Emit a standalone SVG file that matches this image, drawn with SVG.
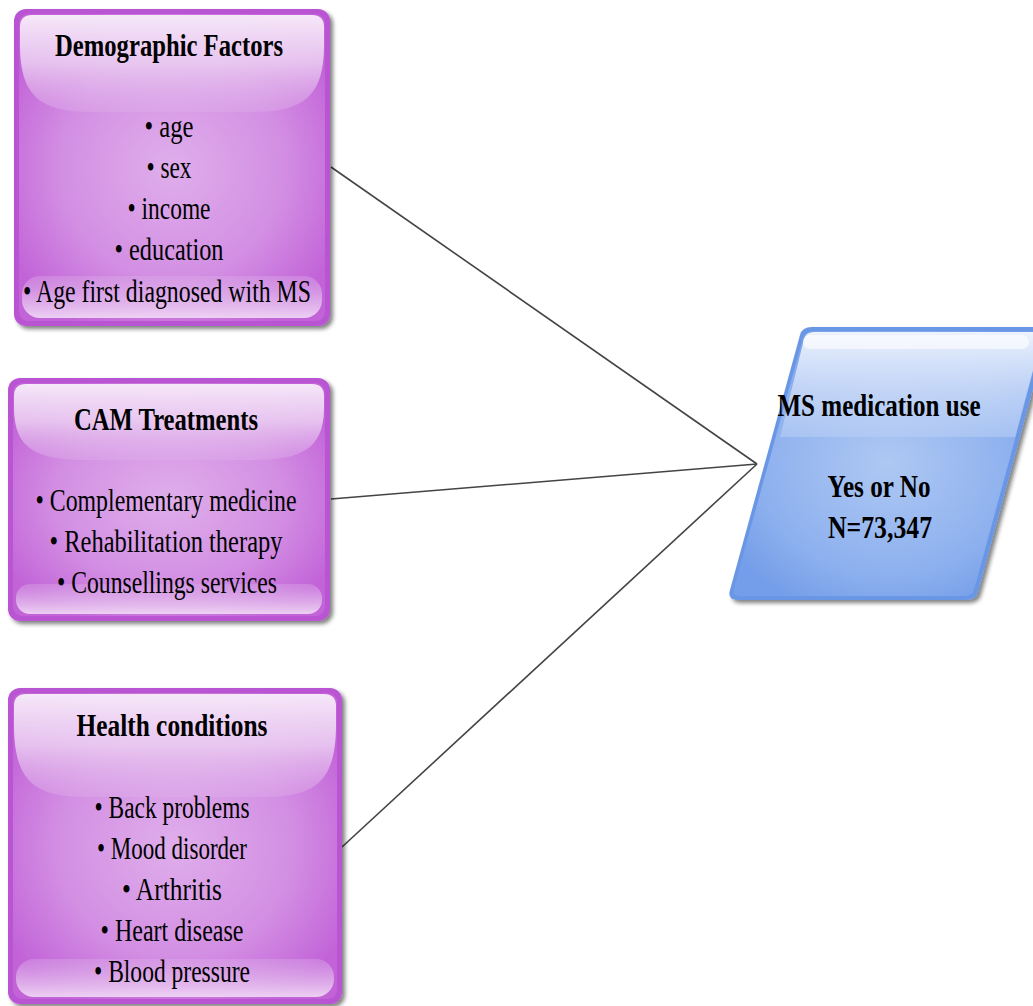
<svg xmlns="http://www.w3.org/2000/svg" width="1033" height="1006" viewBox="0 0 1033 1006">
<defs>
  <radialGradient id="pfill" cx="0.5" cy="0.5" r="0.6">
    <stop offset="0" stop-color="#dfaeeb"/>
    <stop offset="0.6" stop-color="#d38fe3"/>
    <stop offset="1" stop-color="#c263d8"/>
  </radialGradient>
  <linearGradient id="ptop" x1="0" y1="0" x2="0" y2="1">
    <stop offset="0" stop-color="#f6e8f9"/>
    <stop offset="0.5" stop-color="#ecd0f2" stop-opacity="0.85"/>
    <stop offset="1" stop-color="#dfb0ea" stop-opacity="0.35"/>
  </linearGradient>
  <linearGradient id="pbot" x1="0" y1="0" x2="0" y2="1">
    <stop offset="0" stop-color="#dcaee8" stop-opacity="0.35"/>
    <stop offset="1" stop-color="#f2dcf6" stop-opacity="0.9"/>
  </linearGradient>
  <radialGradient id="bfill" cx="0.5" cy="0.5" r="0.6">
    <stop offset="0" stop-color="#aec8f3"/>
    <stop offset="0.7" stop-color="#8db0ee"/>
    <stop offset="1" stop-color="#749ee9"/>
  </radialGradient>
  <linearGradient id="btop" x1="0" y1="0" x2="0" y2="1">
    <stop offset="0" stop-color="#eef3fd"/>
    <stop offset="1" stop-color="#b7cdf5" stop-opacity="0.6"/>
  </linearGradient>
  <filter id="sh" x="-10%" y="-10%" width="125%" height="125%">
    <feGaussianBlur in="SourceAlpha" stdDeviation="2"/>
    <feOffset dx="3" dy="3"/>
    <feComponentTransfer><feFuncA type="linear" slope="0.5"/></feComponentTransfer>
    <feMerge><feMergeNode/><feMergeNode in="SourceGraphic"/></feMerge>
  </filter>
</defs>
<style>
  .outer { fill: #b955d2; }
  .inner { fill: url(#pfill); }
  .gtop { fill: url(#ptop); }
  .gbot { fill: url(#pbot); }
  .t { font-family: "Liberation Serif", "DejaVu Serif", serif; font-size: 31px; fill: #000; text-anchor: middle; }
  .h { font-weight: bold; }
  .conn { stroke: #444; stroke-width: 1.6; fill: none; }
</style>

<g id="connectors">
  <line class="conn" x1="331" y1="167" x2="757" y2="464"/>
  <line class="conn" x1="331" y1="499" x2="757" y2="464"/>
  <line class="conn" x1="342" y1="847" x2="757" y2="464"/>
</g>

<g id="demographic">
  <g filter="url(#sh)">
    <rect class="outer" x="14" y="9" width="316" height="317" rx="12"/>
  </g>
  <rect class="inner" x="19" y="14" width="306" height="307" rx="9"/>
  <path class="gtop" d="M20,27 Q20,15 32,15 H312 Q324,15 324,27 V45 C324,100 300,112 250,112 H94 C44,112 20,100 20,45 Z"/>
  <rect class="gbot" x="22" y="276" width="300" height="42" rx="18"/>
  <text class="t h" x="169" y="56" textLength="228" lengthAdjust="spacingAndGlyphs">Demographic Factors</text>
  <text class="t" x="169" y="137" textLength="49" lengthAdjust="spacingAndGlyphs">• age</text>
  <text class="t" x="169" y="178" textLength="45" lengthAdjust="spacingAndGlyphs">• sex</text>
  <text class="t" x="169" y="219" textLength="83" lengthAdjust="spacingAndGlyphs">• income</text>
  <text class="t" x="169" y="260" textLength="109" lengthAdjust="spacingAndGlyphs">• education</text>
  <text class="t" x="167" y="302" textLength="288" lengthAdjust="spacingAndGlyphs">• Age first diagnosed with MS</text>
</g>

<g id="cam">
  <g filter="url(#sh)">
    <rect class="outer" x="8" y="378" width="322" height="243" rx="12"/>
  </g>
  <rect class="inner" x="13" y="383" width="312" height="233" rx="9"/>
  <path class="gtop" d="M14,396 Q14,384 26,384 H312 Q324,384 324,396 V408 C324,450 300,460 252,460 H86 C38,460 14,450 14,408 Z"/>
  <rect class="gbot" x="16" y="584" width="306" height="30" rx="14"/>
  <text class="t h" x="166" y="430" textLength="184" lengthAdjust="spacingAndGlyphs">CAM Treatments</text>
  <text class="t" x="166" y="511" textLength="261" lengthAdjust="spacingAndGlyphs">• Complementary medicine</text>
  <text class="t" x="166" y="552" textLength="233" lengthAdjust="spacingAndGlyphs">• Rehabilitation therapy</text>
  <text class="t" x="167" y="593" textLength="220" lengthAdjust="spacingAndGlyphs">• Counsellings services</text>
</g>

<g id="health">
  <g filter="url(#sh)">
    <rect class="outer" x="8" y="688" width="334" height="316" rx="12"/>
  </g>
  <rect class="inner" x="13" y="693" width="324" height="306" rx="9"/>
  <path class="gtop" d="M14,706 Q14,694 26,694 H324 Q336,694 336,706 V725 C336,785 312,797 262,797 H88 C38,797 14,785 14,725 Z"/>
  <rect class="gbot" x="16" y="959" width="318" height="38" rx="18"/>
  <text class="t h" x="172" y="736" textLength="191" lengthAdjust="spacingAndGlyphs">Health conditions</text>
  <text class="t" x="172" y="818" textLength="155" lengthAdjust="spacingAndGlyphs">• Back problems</text>
  <text class="t" x="172" y="859" textLength="150" lengthAdjust="spacingAndGlyphs">• Mood disorder</text>
  <text class="t" x="172" y="900" textLength="100" lengthAdjust="spacingAndGlyphs">• Arthritis</text>
  <text class="t" x="172" y="941" textLength="143" lengthAdjust="spacingAndGlyphs">• Heart disease</text>
  <text class="t" x="172" y="982" textLength="156" lengthAdjust="spacingAndGlyphs">• Blood pressure</text>
</g>

<g id="ms-medication">
  <g filter="url(#sh)">
    <path d="M812,327 H1040 Q1050,327 1047,337 L978,592 Q976,600 966,600 H738 Q727,600 730,590 L800,335 Q802,327 812,327 Z" fill="#6a96e6"/>
  </g>
  <path d="M814,331 H1036 Q1045,331 1042,340 L974,590 Q972,596 964,596 H740 Q732,596 734,588 L803,338 Q805,331 814,331 Z" fill="url(#bfill)"/>
  <path d="M814,332 H1036 Q1044,332 1041,341 L1015,437 H780 L804,339 Q806,332 814,332 Z" fill="url(#btop)"/>
  <rect x="803" y="335" width="226" height="14" rx="7" fill="#ffffff" opacity="0.6"/>
  <text class="t h" x="879" y="416" textLength="203" lengthAdjust="spacingAndGlyphs">MS medication use</text>
  <text class="t h" x="879" y="497" textLength="103" lengthAdjust="spacingAndGlyphs">Yes or No</text>
  <text class="t h" x="880" y="538" textLength="104" lengthAdjust="spacingAndGlyphs">N=73,347</text>
</g>
</svg>
